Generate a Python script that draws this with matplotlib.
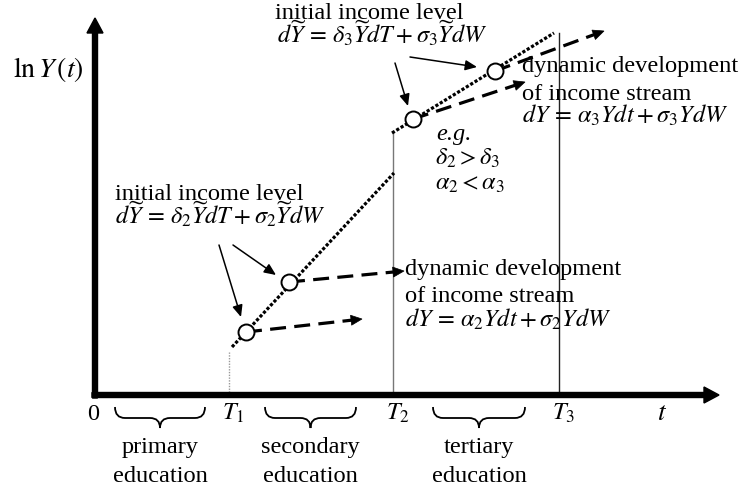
import matplotlib
matplotlib.use("Agg")
import matplotlib.pyplot as plt
from matplotlib.path import Path
from matplotlib.patches import PathPatch

plt.rcParams["font.family"] = ["Liberation Serif", "DejaVu Serif"]
plt.rcParams["mathtext.fontset"] = "stix"

# time marks on the t axis and heights of the thin verticals
t_labels = ["0", "$T_1$", "$T_2$", "$T_3$"]
t_marks = [0.0, 1.34, 2.98, 4.64]
mark_tops = [0.43, 2.62, 3.62]
mark_colors = ["#999999", "#777777", "#222222"]
mark_styles = [(0, (1, 1)), "-", "-"]

# dotted lines of the initial income level (one per school stage)
level_t = [[1.37, 2.99], [2.97, 4.59]]
level_lny = [[0.48, 2.22], [2.62, 3.62]]

# starting points (circles) and ends of the income streams
start_t = [1.51, 1.94, 3.18, 4.00]
start_lny = [0.63, 1.13, 2.76, 3.24]
end_t = [2.67, 3.09, 4.30, 5.09]
end_lny = [0.76, 1.24, 3.13, 3.64]

# education stages under the axis
stages = ["primary", "secondary", "tertiary"]
stage_from = [0.20, 1.70, 3.38]
stage_to = [1.10, 2.61, 4.30]

FS = 17.6

fig = plt.figure(figsize=(7.5, 4.94), dpi=100)
ax = fig.add_axes([0, 0, 1, 1])
ax.set_xlim(-0.95, 6.55)
ax.set_ylim(-0.99, 3.95)
ax.axis("off")

# axes with arrows
ax.arrow(-0.03, 0, 6.27, 0, width=0.05, head_width=0.16, head_length=0.15,
         length_includes_head=True, fc="black", ec="black", zorder=5)
ax.arrow(0, -0.03, 0, 3.80, width=0.05, head_width=0.16, head_length=0.15,
         length_includes_head=True, fc="black", ec="black", zorder=5)

# thin verticals at T1..T3
for x, top, c, ls in zip(t_marks[1:], mark_tops, mark_colors, mark_styles):
    ax.plot([x, x], [0, top], color=c, lw=1.0, ls=ls, zorder=3)

# dotted level lines
for xs, ys in zip(level_t, level_lny):
    ax.plot(xs, ys, color="black", lw=2.3, ls=(0, (1, 0.6)), zorder=3)

# dashed streams with heads
for x0, y0, x1, y1 in zip(start_t, start_lny, end_t, end_lny):
    dx, dy = x1 - x0, y1 - y0
    n = (dx ** 2 + dy ** 2) ** 0.5
    ux, uy = dx / n, dy / n
    hl = 0.11
    ax.plot([x0, x1 - ux * hl * 0.8], [y0, y1 - uy * hl * 0.8], color="black",
            lw=2.3, ls=(0, (5, 2.6)), zorder=3)
    ax.arrow(x1 - ux * hl, y1 - uy * hl, ux * hl, uy * hl, width=0.0,
             head_width=0.10, head_length=hl, length_includes_head=True,
             fc="black", ec="black", lw=0.5, zorder=4)

ax.plot(start_t, start_lny, "o", ms=11.5, mfc="white", mec="black", mew=1.4, zorder=6)

# thin pointer arrows from labels to circles
pointers = [((1.24, 1.50), (1.46, 0.78)), ((1.38, 1.50), (1.81, 1.20)),
            ((3.00, 3.32), (3.13, 2.89)), ((3.15, 3.38), (3.82, 3.28))]
for (xa, ya), (xb, yb) in pointers:
    ax.annotate("", xy=(xb, yb), xytext=(xa, ya),
                arrowprops=dict(arrowstyle="-|>,head_length=0.5,head_width=0.22",
                                lw=1.1, color="black", mutation_scale=14,
                                shrinkA=0, shrinkB=0), zorder=4)

# braces and stage labels
def brace(x0, x1, ytop=-0.12, ybar=-0.23, ytip=-0.33, q=0.1):
    xm = (x0 + x1) / 2
    verts = [(x0, ytop), (x0, ybar), (x0 + q, ybar),
             (xm - q, ybar), (xm, ybar), (xm, ytip),
             (xm, ybar), (xm + q, ybar),
             (x1 - q, ybar), (x1, ybar), (x1, ytop)]
    codes = [Path.MOVETO, Path.CURVE3, Path.CURVE3,
             Path.LINETO, Path.CURVE3, Path.CURVE3,
             Path.CURVE3, Path.CURVE3,
             Path.LINETO, Path.CURVE3, Path.CURVE3]
    ax.add_patch(PathPatch(Path(verts, codes), fc="none", ec="black", lw=1.3))

for name, a, b in zip(stages, stage_from, stage_to):
    brace(a, b)
    xm = (a + b) / 2
    ax.text(xm, -0.58, name, ha="center", va="baseline", fontsize=FS)
    ax.text(xm, -0.87, "education", ha="center", va="baseline", fontsize=FS)

# tick labels
ax.text(-0.02, -0.25, t_labels[0], ha="center", va="baseline", fontsize=FS)
for lab, x in zip(t_labels[1:], t_marks[1:]):
    ax.text(x - 0.07, -0.25, lab, ha="left", va="baseline", fontsize=FS)
ax.text(5.62, -0.25, "$t$", ha="left", va="baseline", fontsize=FS + 2)
ax.text(-0.82, 3.18, r"$\ln Y\,(t)$", ha="left", va="baseline", fontsize=FS + 2.5)

# annotations
eq_up = r"$d\widetilde{Y}\,=\,\delta_3\widetilde{Y}dT+\sigma_3\widetilde{Y}dW$"
eq_lo = r"$d\widetilde{Y}\,=\,\delta_2\widetilde{Y}dT+\sigma_2\widetilde{Y}dW$"
ax.text(1.80, 3.76, "initial income level", va="baseline", fontsize=FS)
ax.text(1.82, 3.52, eq_up, va="baseline", fontsize=FS)
ax.text(0.20, 1.95, "initial income level", va="baseline", fontsize=FS)
ax.text(0.20, 1.71, eq_lo, va="baseline", fontsize=FS)

ax.text(4.27, 3.23, "dynamic development", va="baseline", fontsize=FS)
ax.text(4.27, 2.95, "of income stream", va="baseline", fontsize=FS)
ax.text(4.27, 2.72, r"$dY\,=\,\alpha_3 Ydt+\sigma_3 YdW$", va="baseline", fontsize=FS)

ax.text(3.41, 2.55, "e.g.", va="baseline", fontsize=FS, style="italic")
ax.text(3.40, 2.30, r"$\delta_2 > \delta_3$", va="baseline", fontsize=FS)
ax.text(3.40, 2.05, r"$\alpha_2 < \alpha_3$", va="baseline", fontsize=FS)

ax.text(3.10, 1.20, "dynamic development", va="baseline", fontsize=FS)
ax.text(3.10, 0.93, "of income stream", va="baseline", fontsize=FS)
ax.text(3.10, 0.68, r"$dY\,=\,\alpha_2 Ydt+\sigma_2 YdW$", va="baseline", fontsize=FS)

fig.savefig("out.png", dpi=100)
